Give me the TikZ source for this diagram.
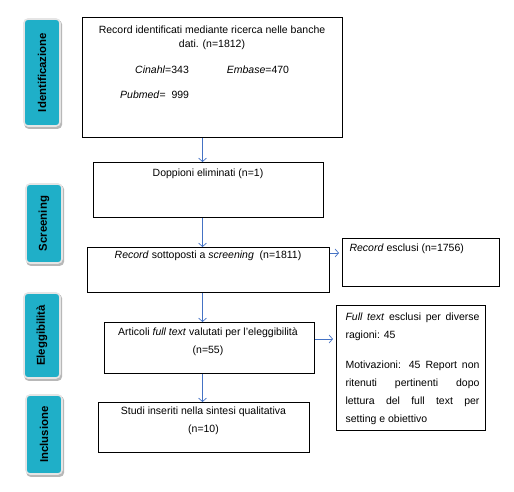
\documentclass[tikz,border=0pt]{standalone}
\usepackage{fontspec}
\setmainfont{Liberation Sans}
\usetikzlibrary{arrows.meta,backgrounds}
\definecolor{labteal}{RGB}{31,175,200}
\definecolor{arrblue}{RGB}{68,114,196}
\tikzset{
  box/.style={draw=black, line width=0.8pt, inner sep=0pt, anchor=north west},
  lab/.style={rotate=90, rounded corners=4pt, fill=labteal, draw=black!10, line width=1.6pt,
              font=\fontsize{11.4}{13}\selectfont\bfseries, inner sep=0pt, minimum height=36pt},
  labshadow/.style={fill=black!28, rounded corners=4pt},
  arr/.style={draw=arrblue, line width=0.7pt, -{Straight Barb[length=3.5pt,width=8pt]}},
  txt/.style={inner sep=0pt, anchor=base},
  txtl/.style={inner sep=0pt, anchor=base west},
}
\begin{document}
\begin{tikzpicture}[x=1pt,y=-1pt,font=\fontsize{10.5}{12.6}\selectfont]
\path[use as bounding box] (0,0) rectangle (514,492);

% side labels
\node[lab, minimum width=107pt] (l1) at (42,72.5) {Identificazione};
\node[lab, minimum width=79pt] (l2) at (44,223.5) {Screening};
\node[lab, minimum width=85pt] (l3) at (42,335.5) {Eleggibilità};
\node[lab, minimum width=79pt] (l4) at (44,434.5) {Inclusione};
\begin{pgfonlayer}{background}
\foreach \n in {l1,l2,l3,l4}{
  \fill[labshadow] ([shift={(1.2,2)}]\n.south west) rectangle ([shift={(1.2,2)}]\n.north east);
}
\end{pgfonlayer}

% boxes
\node[box, minimum width=260pt, minimum height=120pt] (b1) at (82,17) {};
\node[box, minimum width=230pt, minimum height=55pt] (b2) at (93,162) {};
\node[box, minimum width=242pt, minimum height=45pt] (b3) at (87,247) {};
\node[box, minimum width=157pt, minimum height=48pt] (rx) at (342,238) {};
\node[box, minimum width=210pt, minimum height=51pt] (b4) at (104,322) {};
\node[box, minimum width=149pt, minimum height=125pt] (fx) at (336,305) {};
\node[box, minimum width=211pt, minimum height=50pt] (b5) at (98,402) {};

% texts
\node[txt] (t1a) at (212,33.5) {Record identificati mediante ricerca nelle banche};
\node[txt] (t1b) at (212,47.5) {dati. (n=1812)};
\node[txtl] (t1c) at (135,74) {\textit{Cinahl}=343};
\node[txtl] (t1d) at (226.7,74) {\textit{Embase}=470};
\node[txtl] (t1e) at (120,98.5) {\textit{Pubmed}=\ \ 999};
\node[txt] (t2) at (208,176) {Doppioni eliminati (n=1)};
\node[txt] (t3) at (208,258) {\textit{Record} sottoposti a \textit{screening}\ \ (n=1811)};
\node[txtl] (tr) at (349.3,251) {\textit{Record} esclusi (n=1756)};
\node[txt] (t4a) at (208,335) {Articoli \textit{full text} valutati per l’eleggibilità};
\node[txt] (t4b) at (208,353) {(n=55)};
\node[txt] (t5a) at (203.5,414) {Studi inseriti nella sintesi qualitativa};
\node[txt] (t5b) at (203.5,432) {(n=10)};
\node[txtl] (f1) at (345.3,320) {\makebox[134pt][s]{\textit{Full text} esclusi per diverse}};
\node[txtl] (f2) at (345.3,338) {ragioni: 45};
\node[txtl] (f3) at (345.3,368) {\makebox[134pt][s]{Motivazioni: 45 Report non}};
\node[txtl] (f4) at (345.3,386.5) {\makebox[134pt][s]{ritenuti pertinenti dopo}};
\node[txtl] (f5) at (345.3,404.5) {\makebox[134pt][s]{lettura del full text per}};
\node[txtl] (f6) at (345.3,422) {setting e obiettivo};

% connectors
\coordinate (ax) at (202.5,0);
\coordinate (ay1) at (0,253);
\coordinate (ay2) at (0,339);
\draw[arr] (b1.south -| ax) -- (b2.north -| ax);
\draw[arr] (b2.south -| ax) -- (b3.north -| ax);
\draw[arr] (b3.south -| ax) -- (b4.north -| ax);
\draw[arr] (b4.south -| ax) -- (b5.north -| ax);
\draw[arr, shorten >=3pt] (b3.east |- ay1) -- (rx.west |- ay1);
\draw[arr, shorten >=3pt] (b4.east |- ay2) -- (fx.west |- ay2);
\end{tikzpicture}
\end{document}
